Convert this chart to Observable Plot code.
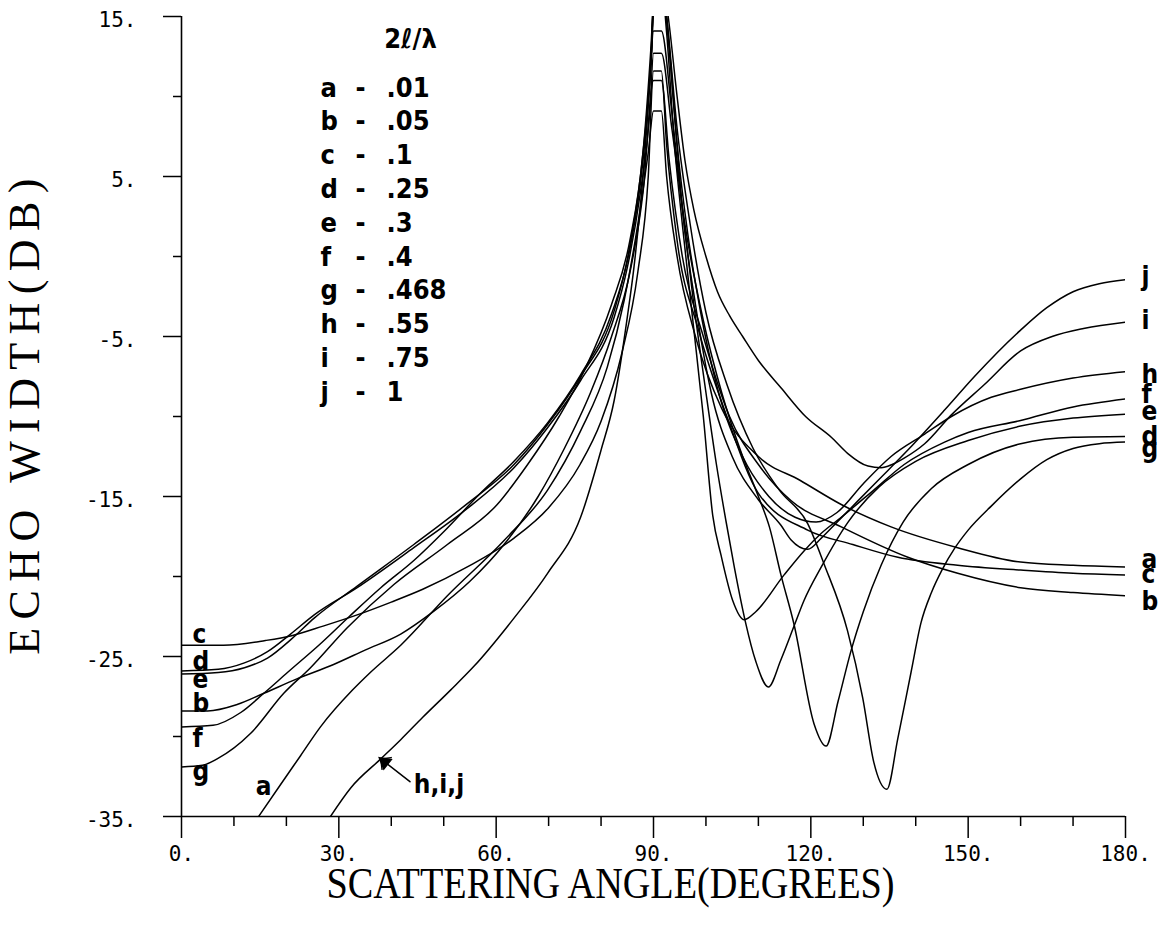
<!DOCTYPE html>
<html>
<head>
<meta charset="utf-8">
<script src="https://cdn.jsdelivr.net/npm/d3@7"></script>
<script src="https://cdn.jsdelivr.net/npm/@observablehq/plot@0.6"></script>
<style>
  html, body { margin: 0; padding: 0; background: #fff; }
  #chart svg { display: block; }
</style>
</head>
<body>
<div id="chart"></div>
<script>
// ---------------- data ----------------
const seriesIds = ["a", "b", "c", "d", "e", "f", "g", "h", "i", "j"];
const ratioLabels = [".01", ".05", ".1", ".25", ".3", ".4", ".468", ".55", ".75", "1"];
const legendHeader = "2ℓ/λ";
const xTitle = "SCATTERING ANGLE(DEGREES)";
const yTitle = "ECHO WIDTH(DB)";
const xMajorTicks = [0, 30, 60, 90, 120, 150, 180];
const xMinorTicks = [10, 20, 40, 50, 70, 80, 100, 110, 130, 140, 160, 170];
const yMajorTicks = [15, 5, -5, -15, -25, -35];
const yMinorTicks = [10, 0, -10, -20, -30];

// [scattering angle (deg), echo width (dB)]
const curveA = [[14.7,-35],[18.9,-33.0],[22.7,-31.2],[26.5,-29.4],[32.6,-27.1],[36,-26.0],[41.8,-24.3],[50.7,-21.2],[61.5,-17.75],[69.8,-14.6],[76.1,-10.9],[81.2,-6.9],[84.4,-2.75],[87,2],[89,6.5],[90,9.1],[91.5,9.1],[92.5,5],[94.5,0],[98,-5],[103,-9.5],[110,-12.5],[118,-14],[125.8,-15.5],[135.3,-16.9],[148,-18.2],[160,-19.1],[170,-19.3],[180,-19.4]];
const curveB = [[0,-28.4],[5,-28.4],[10.6,-28.0],[15.7,-27.3],[22,-26.4],[29,-25.5],[35,-24.6],[41.8,-23.6],[48,-22.2],[55,-20.3],[62,-17.8],[68,-15],[73,-12],[78,-8.5],[82,-5],[85.5,-1],[88,4],[90,11],[91.5,11],[93,6],[95.5,0],[99.5,-5],[104.5,-10],[110,-13],[116.2,-15.25],[125.8,-16.9],[138.5,-18.8],[148,-19.8],[160,-20.7],[170,-21.0],[180,-21.2]];
const curveC = [[0,-24.3],[8,-24.3],[16,-24.0],[21,-23.7],[27,-23.1],[33.5,-22.4],[40,-21.6],[46,-20.8],[54.5,-19.4],[63.4,-17.6],[70,-15.7],[76,-13.0],[80,-10.3],[84,-6],[87,-1],[89,5],[90,11.6],[91.5,11.6],[92.5,7],[94.5,1],[98.5,-4.5],[104,-10],[110,-14.8],[119.4,-17.1],[128,-18.0],[136.6,-18.8],[148,-19.3],[160,-19.6],[170,-19.8],[180,-19.9]];
const curveD = [[0,-25.9],[7,-25.8],[12,-25.4],[16.4,-24.7],[20.8,-23.6],[25.3,-22.4],[33.5,-20.7],[44.3,-18.2],[53.9,-15.9],[63.4,-13.2],[69.8,-10.7],[76.1,-7.75],[82.5,-3.8],[85,-0.7],[87.5,4],[89.3,9],[90,12.7],[91.5,12.7],[93.5,8],[96,2],[99.5,-4],[103,-8.5],[107,-12.5],[110,-15],[112.1,-16.9],[114.3,-19.9],[116.8,-23.0],[120.6,-29.2],[122.9,-30.6],[125.2,-27.8],[127.7,-24.6],[130,-22.2],[133.4,-19.3],[137.6,-16.6],[143,-14.5],[150,-13],[160,-11.7],[170,-11.3],[180,-11.25]];
const curveE = [[0,-26.1],[7,-26.0],[12,-25.7],[16.4,-25.1],[21,-23.9],[25.3,-22.6],[33.5,-20.6],[44.3,-18.0],[53.9,-15.6],[63.4,-13.0],[69.8,-10.5],[76.1,-7.5],[82.5,-3.4],[85,-0.2],[87.5,5],[89.3,11],[90,14.1],[91.5,14.1],[93.5,9],[95.5,3],[97.5,-2.5],[100,-8.5],[102,-13],[103.8,-16.5],[105.4,-19.4],[107.5,-22.8],[109.5,-25.3],[111.9,-26.9],[114.3,-25.2],[116.8,-23.1],[118.7,-21.5],[122,-19.4],[127.1,-16.6],[133,-14.4],[140,-12.8],[150,-11.5],[160,-10.6],[170,-10.1],[180,-9.85]];
const curveF = [[0,-29.4],[6,-29.3],[11.3,-28.5],[15.7,-27.3],[20.2,-26.0],[26.5,-24.2],[32,-22.5],[38,-20.7],[44.3,-19.0],[50,-17.2],[57,-14.8],[63.4,-12.8],[69.8,-10.4],[76.1,-7.4],[82,-3.6],[85.5,0.5],[88,6],[89.5,12],[90.4,18],[91.2,18],[92.5,14],[94,7],[95.5,2],[97.5,-4],[99.5,-10],[101.3,-16.2],[102.9,-18.7],[105.1,-21.5],[107.3,-22.7],[109.5,-22.2],[114.9,-19.9],[118.7,-18.4],[122,-17.3],[125.8,-16.3],[132,-14.6],[137.8,-13.0],[145.5,-11.6],[150,-11.0],[160,-10.25],[170,-9.4],[180,-8.9]];
const curveG = [[0,-31.9],[4,-31.8],[6.8,-31.4],[13.2,-29.8],[19.5,-27.3],[24.6,-25.7],[31.6,-23.2],[40.5,-20.5],[50.7,-18],[60.2,-15.5],[66,-13],[72,-10],[77,-7],[82,-3],[85.5,1],[88,6.5],[89.5,13],[90.4,18],[91.2,18],[92.5,15],[94.5,8],[97,2],[100,-3.5],[104,-8],[109,-12],[114,-14.6],[119.4,-16.7],[122.5,-19.2],[127,-23.4],[129.9,-27.6],[132,-31.6],[134.5,-33.3],[136.6,-30.1],[139.1,-26.0],[141,-22.9],[143,-21.0],[145,-19.6],[147.5,-18.2],[150,-17.1],[154.4,-15.6],[160,-13.9],[165,-12.7],[170,-12.0],[175,-11.7],[180,-11.6]];
// h, i, j share one trace on the left (labelled "h,i,j")
const curveHIJLeft = [[28.4,-35],[32.3,-33.2],[38,-31.4],[41.8,-30.2],[46,-28.8],[51.3,-27.1],[55.8,-25.6],[63.4,-22.6],[69.8,-19.8],[76.1,-16.3],[80,-12.1],[82.5,-9],[85,-3.8],[86.3,-0.6],[88,5],[89.5,12]];
const curveHRight = [[90.5,18],[91.3,18],[92.7,14],[94.5,7],[96.5,1.5],[99,-3.5],[102,-8],[107,-12.5],[112,-15],[117,-16.3],[121,-16.6],[125,-16.0],[130,-14.2],[135.3,-12.5],[141.7,-11.1],[146.8,-10],[154.4,-8.8],[160,-8.3],[170,-7.6],[180,-7.2]];
const curveIRight = [[90.5,18],[91.3,18],[92.8,15],[94.5,10],[96,6],[97.7,2.9],[100,0],[102.2,-2.2],[104.5,-3.7],[107,-5.0],[110,-6.5],[114.3,-8.2],[119,-10],[123.9,-11.3],[127,-12.3],[130.9,-13.1],[133.4,-13.2],[135.5,-13.0],[137.8,-12.6],[141.7,-11.7],[146.8,-9.9],[153.1,-8.0],[160,-5.9],[166,-5.0],[172,-4.5],[180,-4.1]];
const curveJRight = [[90.5,18],[91.3,18],[92.5,15],[94,9],[95.5,3],[98,-3],[101,-8.5],[105,-12.5],[110,-15.2],[114.3,-16.8],[116.2,-17.7],[119.4,-18.3],[122,-17.6],[125,-16.6],[127.7,-15.7],[132.8,-14],[138.5,-12.1],[145.5,-9.6],[151.2,-7.5],[160,-4.6],[165,-3.2],[170,-2.2],[175,-1.7],[180,-1.45]];

// ---------------- assembly ----------------
// the shared left trace is drawn once (with j); h and i branch off at its last point
const hijJoin = curveHIJLeft[curveHIJLeft.length - 1];
const curves = {
  a: curveA, b: curveB, c: curveC, d: curveD, e: curveE, f: curveF, g: curveG,
  h: [hijJoin, ...curveHRight],
  i: [hijJoin, ...curveIRight],
  j: [...curveHIJLeft, ...curveJRight]
};
const rows = seriesIds.flatMap(id => curves[id].map(([angle, db]) => ({id, angle, db})));

// label layout (pixel nudges only)
const rightNudge = {j: -3.5, i: -1, h: 3, f: -4, e: -2, d: 0, g: 7, a: -7, c: -0.5, b: 5.5};
const leftLabelIds = ["c", "d", "e", "b", "f", "g"];
const leftNudge = {c: -11, d: -9, e: 6, b: -7, f: 12, g: 5};

const sansCond = "'DejaVu Sans Condensed', 'Liberation Sans Narrow', 'DejaVu Sans', sans-serif";
const mono = "'DejaVu Sans Mono', 'Liberation Mono', monospace";
const serif = "'Liberation Serif', 'DejaVu Serif', serif";
const labelStyle = {fontSize: 26, fontFamily: sansCond, fontWeight: "bold", fill: "black", lineAnchor: "middle"};
const legendStyle = {fontSize: 27, fontFamily: sansCond, fontWeight: "bold", fill: "black", lineAnchor: "middle"};

const hijTip = curveHIJLeft.find(p => p[0] === 38);
const legendY = {value: (d, i) => 87.4 + 33.8 * i, scale: null};

const marks = [
  // axis lines
  Plot.ruleX([0], {y1: -35, y2: 15, stroke: "black", strokeWidth: 1.6}),
  Plot.ruleY([-35], {x1: 0, x2: 180, stroke: "black", strokeWidth: 1.6}),
  Plot.axisX(xMajorTicks, {anchor: "bottom", tickSize: 22, tickPadding: 8, tickFormat: d => `${d}.`, fontSize: 21, fontFamily: mono, strokeWidth: 1.5, label: null}),
  Plot.axisX(xMinorTicks, {anchor: "bottom", tickSize: 10, tickFormat: () => "", strokeWidth: 1.5, label: null}),
  Plot.axisY(yMajorTicks, {anchor: "left", tickSize: 18, tickFormat: () => "", strokeWidth: 1.5, label: null}),
  Plot.axisY(yMinorTicks, {anchor: "left", tickSize: 8, tickFormat: () => "", strokeWidth: 1.5, label: null}),
  Plot.text(yMajorTicks, {frameAnchor: "left", y: d => d, text: d => `${d}.`, textAnchor: "end", lineAnchor: "middle", dx: -45, dy: 4, fontSize: 21, fontFamily: mono, fill: "black"}),

  // curves
  Plot.line(rows, {x: "angle", y: "db", z: "id", stroke: "black", strokeWidth: 1.5, curve: "monotone-x", clip: true}),

  // right-end labels
  ...seriesIds.map(id => {
    const end = curves[id][curves[id].length - 1];
    return Plot.text([end], {x: d => d[0], y: d => d[1], text: () => id, textAnchor: "start", dx: 16, dy: rightNudge[id], ...labelStyle});
  }),
  // left-start labels
  ...leftLabelIds.map(id => {
    const start = curves[id][0];
    return Plot.text([start], {x: d => d[0], y: d => d[1], text: () => id, textAnchor: "start", dx: 11, dy: leftNudge[id], ...labelStyle});
  }),
  Plot.text([curveA[0]], {x: d => d[0], y: d => d[1], text: () => "a", textAnchor: "middle", dx: 5, dy: -30, ...labelStyle}),

  // h,i,j annotation with arrow
  Plot.vector([hijTip], {x: d => d[0], y: d => d[1], length: 37, rotate: -52, anchor: "end", stroke: "black", strokeWidth: 1.5}),
  Plot.dot([hijTip], {x: d => d[0], y: d => d[1], symbol: "triangle", r: 4.5, rotate: -52, fill: "black", stroke: "black", dx: 4, dy: 3.2}),
  Plot.text([hijTip], {x: d => d[0], y: d => d[1], text: () => "h,i,j", textAnchor: "start", dx: 33, dy: 26, ...labelStyle}),

  // legend
  Plot.text([legendHeader], {frameAnchor: "top-left", text: d => d, textAnchor: "middle", dx: 229, dy: 22.4, ...legendStyle}),
  Plot.text(seriesIds, {frameAnchor: "top-left", y: legendY, text: d => d, textAnchor: "start", dx: 139, ...legendStyle}),
  Plot.text(seriesIds, {frameAnchor: "top-left", y: legendY, text: () => "-", textAnchor: "middle", dx: 179, ...legendStyle}),
  Plot.text(ratioLabels, {frameAnchor: "top-left", y: legendY, text: d => d, textAnchor: "start", dx: 205, ...legendStyle}),

  // axis titles
  Plot.text([yTitle], {frameAnchor: "left", text: d => d, rotate: -90, textAnchor: "middle", lineAnchor: "middle", dx: -157, dy: -4, fontSize: 44, fontFamily: serif, fill: "black"}),
  Plot.text([xTitle], {frameAnchor: "bottom", text: d => d, textAnchor: "middle", lineAnchor: "middle", dx: -43, dy: 67, fontSize: 44, fontFamily: serif, fill: "black"})
];

const chart = Plot.plot({
  width: 1161,
  height: 928,
  marginTop: 16,
  marginBottom: 112,
  marginLeft: 181,
  marginRight: 36,
  x: {domain: [0, 180], label: null},
  y: {domain: [-35, 15], label: null},
  style: {background: "white", color: "black", fontFamily: mono, fontSize: "21px"},
  marks
});

// match the reference's condensed / spaced title lettering
for (const t of chart.querySelectorAll("text")) {
  if (t.textContent === xTitle) {
    t.setAttribute("textLength", "568");
    t.setAttribute("lengthAdjust", "spacingAndGlyphs");
  } else if (t.textContent === yTitle) {
    t.style.letterSpacing = "8.4px";
  }
}

document.getElementById("chart").appendChild(chart);
</script>
</body>
</html>
